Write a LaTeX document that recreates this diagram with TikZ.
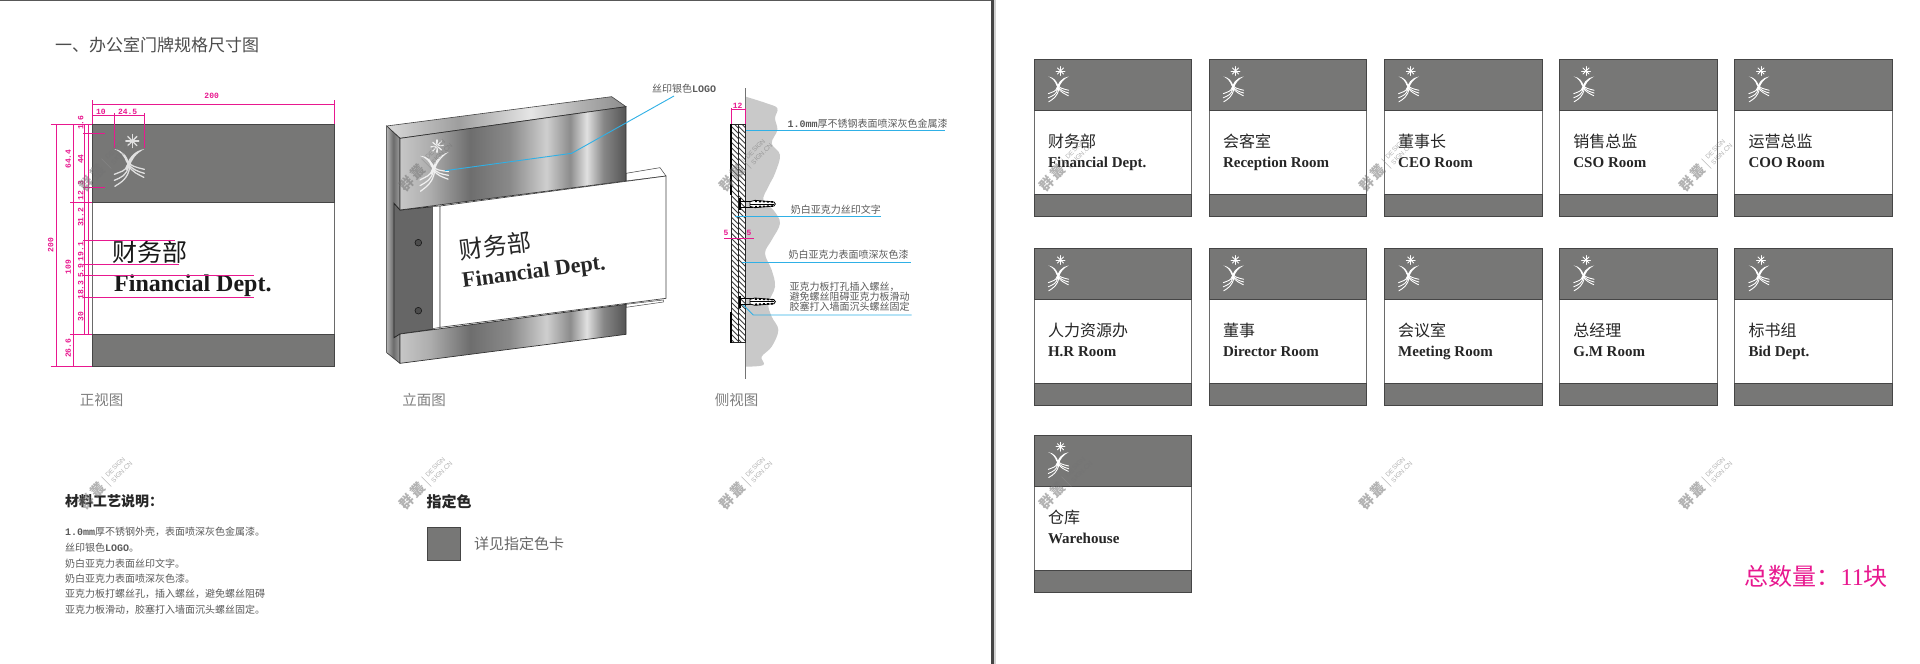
\documentclass[tikz,border=0pt]{standalone}
\usepackage{fontspec}
\setmainfont{Liberation Serif}
\setsansfont{Liberation Sans}
\setmonofont{Liberation Mono}
\newfontfamily\cjk{Noto Sans CJK SC}
\newcommand\fsz[1]{\fontsize{#1}{#1}\selectfont}
\definecolor{bandgray}{HTML}{777776}
\definecolor{edgegray}{HTML}{454545}
\definecolor{pinkdim}{HTML}{E8188F}
\definecolor{leaderblue}{HTML}{2FB0E6}
\definecolor{notegray}{HTML}{5A5A5A}
\definecolor{wallgray}{HTML}{C9C9C9}
\pgfdeclarehorizontalshading{metalband}{100bp}{
 rgb(0bp)=(.78,.78,.78);rgb(25bp)=(.78,.78,.78);rgb(31.6bp)=(.68,.68,.68);rgb(40.5bp)=(.43,.43,.43);
 rgb(49.3bp)=(.54,.54,.54);rgb(57.4bp)=(.81,.81,.81);rgb(62.6bp)=(.55,.55,.55);rgb(66.3bp)=(.88,.88,.88);
 rgb(70bp)=(.53,.53,.53);rgb(75bp)=(.33,.33,.33);rgb(100bp)=(.33,.33,.33)}
\pgfdeclarehorizontalshading{metaltop}{100bp}{
 rgb(0bp)=(.85,.85,.85);rgb(25bp)=(.85,.85,.85);rgb(40bp)=(.62,.62,.62);rgb(55bp)=(.9,.9,.9);
 rgb(65bp)=(.7,.7,.7);rgb(75bp)=(.55,.55,.55);rgb(100bp)=(.55,.55,.55)}
\pgfdeclarehorizontalshading{metalside}{100bp}{
 rgb(0bp)=(.7,.7,.7);rgb(25bp)=(.7,.7,.7);rgb(50bp)=(.42,.42,.42);rgb(75bp)=(.62,.62,.62);rgb(100bp)=(.62,.62,.62)}
\tikzset{
 x=1pt,y=-1pt,
 dimline/.style={draw=pinkdim,line width=.8pt},
 dimtext/.style={text=pinkdim,font=\ttfamily\bfseries\fsz{8},inner sep=0pt},
 leader/.style={draw=leaderblue,line width=.9pt},
 notetext/.style={text=notegray,font=\cjk\fsz{10},inner sep=0pt,anchor=west},
 viewlabel/.style={text=gray,font=\cjk\fsz{14.5},inner sep=0pt},
 band/.style={fill=bandgray,draw=edgegray,line width=.8pt},
 whitepart/.style={fill=white,draw=edgegray!80,line width=.7pt},
 wmark/.style={inner sep=0pt,rotate=45,opacity=.55},
}
% logo: 30 x 55 box, origin at its top-left; #6 = real size factor for strokes
\newcommand\logomark[6]{%
 \begin{scope}[shift={(#1,#2)},scale=#3,#5]
  \foreach \a in {0,45,...,315}{\draw[#4,line width=#6*1.3pt,line cap=round] (18,7.7) -- ++(\a:6.5);}
  \fill[#4] (30,15.7) .. controls (22,20) and (17,26) .. (15.5,34) -- (11.5,37) .. controls (12,26) and (20,17) .. (30,15.7) -- cycle;
  \fill[#4] (0,15.7) .. controls (8,17) and (13,22) .. (15,31) -- (12,29) .. controls (10,23) and (6,18) .. (0,15.7) -- cycle;
  \begin{scope}[#4,line width=#6*1.3pt,line cap=round]
   \draw (13,32) .. controls (11,38) and (7,38) .. (0,41);
   \draw (14,33) .. controls (12.5,42) and (7,44) .. (0,47);
   \draw (15.5,33) .. controls (14,45) and (7,49) .. (0.5,53);
   \draw (12,27) .. controls (16,33) and (22,34) .. (30,36);
   \draw (13,29) .. controls (17,36) and (23,38) .. (30,40);
   \draw (14,32) .. controls (18,39) and (24,41) .. (29.5,44);
  \end{scope}
 \end{scope}}
% card
\newcommand\signcard[5]{%
 \begin{scope}[shift={(#2,#3)}]
  \path[whitepart] (0,51) rectangle (157.5,135.5);
  \path[band] (0,0) rectangle (157.5,51);
  \path[band] (0,135.5) rectangle (157.5,157);
  \logomark{14}{6.5}{.68}{white}{}{.68}
  \node[anchor=west,inner sep=0pt,text=black!85,font=\cjk\fsz{16}] (cn#1) at (13.5,82.5) {#4};
  \node[anchor=base west,inner sep=0pt,text=black!85,font=\bfseries\fsz{15}] (en#1) at (13.5,108) {#5};
 \end{scope}}
% watermark
\newcommand\wmk[3]{%
 \begin{scope}[shift={(#2,#3)},rotate=45]
  \node[wmark,text=black!55,font=\cjk\bfseries\fsz{14}] (wa#1) at (-18,0) {群\,叢};
  \draw[black!45,opacity=.6,line width=.5pt] (2,-7) -- (2,7);
  \node[wmark,text=black!55,font=\sffamily\fsz{6.5},anchor=west] (wb#1) at (6,-4) {DESIGN};
  \node[wmark,text=black!55,font=\sffamily\fsz{6.5},anchor=west] (wc#1) at (6,4) {SIGN.CN};
 \end{scope}}
\begin{document}
\begin{tikzpicture}
\useasboundingbox (0,0) rectangle (1920,664);
\fill[white] (0,0) rectangle (1920,664);
% page frame
\draw[edgegray!90,line width=.8pt] (0,.5) -- (992,.5);
\fill[black!18] (993.5,0) rectangle (995.5,664);
\fill[edgegray] (991.3,0) rectangle (993.5,664);
% title
\node[anchor=west,inner sep=0pt,text=black!70,font=\cjk\fsz{17}] (title) at (55,44.5) {一、办公室门牌规格尺寸图};
% ===== front view
\begin{scope}[shift={(30,80)},scale=.33333]
 \path[whitepart] (187,368) rectangle (913,762);
 \path[band] (187,133) rectangle (913,368);
 \path[band] (187,762) rectangle (913,860);
 \logomark{253}{160}{3}{black!12}{}{1}
 \node[anchor=west,inner sep=0pt,text=black!90,font=\cjk\fsz{25}] (fcn) at (247,516) {财务部};
 \node[anchor=base west,inner sep=0pt,text=black!90,font=\bfseries\fsz{24}] (fen) at (252,635) {Financial Dept.};
 % dimensions
 \draw[dimline] (187,72) -- (913,72);
 \draw[dimline] (187,60) -- (187,133);
 \draw[dimline] (913,60) -- (913,133);
 \draw[dimline] (187,107) -- (343,107);
 \draw[dimline] (253,100) -- (253,205);
 \draw[dimline] (343,100) -- (343,205);
 \draw[dimline] (80,133) -- (80,860);
 \draw[dimline] (130,133) -- (130,860);
 \draw[dimline] (163,133) -- (163,762);
 \draw[dimline] (175,133) -- (175,762);
 \draw[dimline] (62,133) -- (187,133);
 \draw[dimline] (62,860) -- (187,860);
 \draw[dimline] (120,368) -- (187,368);
 \draw[dimline] (120,762) -- (187,762);
 \draw[dimline] (160,160) -- (225,160);
 \draw[dimline] (160,322) -- (225,322);
 \draw[dimline] (160,480) -- (435,480);
 \draw[dimline] (160,552) -- (448,552);
 \draw[dimline] (160,587) -- (672,587);
 \draw[dimline] (160,653) -- (672,653);
 \node[dimtext] (d200a) at (545,47) {200};
 \node[dimtext] (d10) at (213,95) {10};
 \node[dimtext] (d245) at (293,95) {24.5};
 \node[dimtext,rotate=90] (d200b) at (62,495) {200};
 \node[dimtext,rotate=90] (d644) at (115,237) {64.4};
 \node[dimtext,rotate=90] (d109) at (115,562) {109};
 \node[dimtext,rotate=90] (d266) at (115,805) {26.6};
 \node[dimtext,rotate=90] (d16) at (152,128) {1.6};
 \node[dimtext,rotate=90] (d44) at (152,237) {44};
 \node[dimtext,rotate=90] (d3) at (152,310) {3};
 \node[dimtext,rotate=90] (d12) at (152,347) {12};
 \node[dimtext,rotate=90] (d312) at (152,412) {31.2};
 \node[dimtext,rotate=90] (d191) at (152,515) {19.1};
 \node[dimtext,rotate=90] (d59) at (152,572) {5.9};
 \node[dimtext,rotate=90] (d183) at (152,630) {18.3};
 \node[dimtext,rotate=90] (d30) at (152,710) {30};
 \node[viewlabel] (vfront) at (215,960) {正视图};
\end{scope}
% ===== perspective view
\begin{scope}[shift={(370,70)},scale=.33333]
 \path[fill=white,draw=edgegray,line width=.5pt] (768,310) -- (870,293) -- (888,318) -- (768,333) -- cycle;
 \path[fill=white,draw=edgegray,line width=.5pt] (768,703) -- (880,690) -- (880,696) -- (768,712) -- cycle;
 \path[shading=metaltop,draw=edgegray,line width=.6pt] (50,168) -- (725,80) -- (768,110) -- (90,205) -- cycle;
 \path[shading=metalside,draw=black!80,line width=.6pt] (50,168) -- (90,205) -- (90,880) -- (50,848) -- cycle;
 \path[fill=black!60,draw=black!85,line width=.8pt] (72,400) -- (90,420) -- (188,410) -- (188,778) -- (90,792) -- (72,803) -- cycle;
 \path[fill=white,draw=edgegray,line width=.5pt] (188,410) -- (210,408) -- (210,772) -- (188,776) -- cycle;
 \path[shading=metalband,draw=black!80,line width=.7pt] (90,205) -- (768,110) -- (768,333) -- (90,420) -- cycle;
 \path[shading=metalband,draw=black!80,line width=.7pt] (90,792) -- (768,703) -- (768,793) -- (90,880) -- cycle;
 \path[fill=white,draw=edgegray,line width=.7pt] (210,408) -- (888,318) -- (888,685) -- (210,772) -- cycle;
 \path[fill=black!70,draw=black!90,line width=.6pt] (145,518) circle (10);
 \path[fill=black!70,draw=black!90,line width=.6pt] (145,722) circle (10);
 \logomark{150}{213}{2.85}{black!6}{yslant=.13}{.95}
 \node[rotate=7.4,inner sep=0pt,text=black!85,font=\cjk\fsz{24}] (pcn) at (375,528) {财务部};
 \node[rotate=7.4,inner sep=0pt,text=black!85,font=\bfseries\fsz{22}] (pen) at (492,610) {Financial Dept.};
 \node[inner sep=0pt,text=notegray,font=\cjk\fsz{10}] (plogo) at (942,55) {丝印银色\textbf{\ttfamily LOGO}};
 \coordinate (pa) at (225,302);
 \coordinate (pb) at (605,250);
 \coordinate (pc) at (912,78);
 \draw[leader] (pa) -- (pb) -- (pc);
 \node[viewlabel] (vpersp) at (162,990) {立面图};
\end{scope}
% ===== side view
\begin{scope}[shift={(700,70)},scale=.33333]
 \fill[wallgray] plot[smooth,tension=.6] coordinates {(137,80) (200,100) (232,115) (225,145) (232,180) (215,220) (240,255) (225,310) (205,350) (190,390) (220,420) (240,460) (215,510) (195,550) (215,600) (225,650) (205,700) (215,740) (235,780) (215,830) (185,860) (190,885) (137,890)} -- cycle;
 \draw[black!55,line width=1.1pt] (137,55) -- (137,928);
 \fill[white] (93,163) rectangle (137,818);
 \begin{scope}
  \clip (93,163) rectangle (137,818);
  \foreach \h in {120,136,...,830}{\draw[black!75,line width=.9pt] (93,\h) -- (115,\h+22);\draw[black!75,line width=.9pt] (115,\h) -- (137,\h+22);}
 \end{scope}
 \draw[black!85,line width=.8pt] (93,163) rectangle (137,818);
 \draw[black!85,line width=.7pt] (115,163) -- (115,818);
 \draw[black,line width=1.4pt] (93,163) -- (93,375) (93,725) -- (93,818);
 \foreach \h in {402,695}{
  \draw[black,line width=1.1pt] (120,\h-18) -- (120,\h+18);
  \draw[black,line width=.8pt] (120,\h-9) -- (160,\h-9) (120,\h+9) -- (160,\h+9);
  \path[fill=white,draw=black,line width=.8pt] (150,\h-7) -- (165,\h-11) -- (222,\h-6) -- (226,\h) -- (222,\h+6) -- (165,\h+11) -- (150,\h+7) -- cycle;
  \draw[black,line width=1.6pt,dash pattern=on 2pt off 2pt] (165,\h-8) -- (222,\h-6) (165,\h+8) -- (222,\h+6);
  \draw[black,line width=.8pt] (150,\h) -- (222,\h);
 }
 \coordinate (sa1) at (137,180); \coordinate (sa2) at (735,180);
 \coordinate (sb1) at (105,440); \coordinate (sb2) at (543,440);
 \coordinate (sc1) at (125,578); \coordinate (sc2) at (632,578);
 \coordinate (sd1) at (130,705); \coordinate (sd2) at (160,735); \coordinate (sd3) at (635,735);
 \draw[leader] (sa1) -- (sa2);
 \draw[leader] (sb1) -- (sb2);
 \draw[leader] (sc1) -- (sc2);
 \draw[leader] (sd1) -- (sd2) -- (sd3);
 \node[notetext] (na) at (262,160) {{\ttfamily\bfseries 1.0mm}厚不锈钢表面喷深灰色金属漆};
 \node[notetext] (nb) at (272,420) {奶白亚克力丝印文字};
 \node[notetext] (nc) at (265,555) {奶白亚克力表面喷深灰色漆};
 \node[notetext] (nd1) at (268,650) {亚克力板打孔插入螺丝，};
 \node[notetext] (nd2) at (268,680) {避免螺丝阻碍亚克力板滑动};
 \node[notetext] (nd3) at (268,710) {胶塞打入墙面沉头螺丝固定};
 \draw[dimline] (93,118) -- (137,118);
 \draw[dimline] (93,115) -- (93,163);
 \draw[dimline] (137,115) -- (137,163);
 \draw[dimline] (72,505) -- (162,505);
 \node[dimtext] (s12) at (113,106) {12};
 \node[dimtext] (s5a) at (78,490) {5};
 \node[dimtext] (s5b) at (147,490) {5};
 \node[viewlabel] (vside) at (110,990) {侧视图};
\end{scope}
% ===== notes
\node[anchor=west,inner sep=0pt,text=black!85,font=\cjk\bfseries\fsz{14}] (mt) at (65,501.5) {材料工艺说明：};
\node[notetext] (m1) at (65,532) {{\ttfamily\bfseries 1.0mm}厚不锈钢外壳，表面喷深灰色金属漆。};
\node[notetext] (m2) at (65,547.7) {丝印银色{\ttfamily\bfseries LOGO}。};
\node[notetext] (m3) at (65,563.3) {奶白亚克力表面丝印文字。};
\node[notetext] (m4) at (65,578.5) {奶白亚克力表面喷深灰色漆。};
\node[notetext] (m5) at (65,594) {亚克力板打螺丝孔，插入螺丝，避免螺丝阻碍};
\node[notetext] (m6) at (65,609.7) {亚克力板滑动，胶塞打入墙面沉头螺丝固定。};
\node[anchor=west,inner sep=0pt,text=black!85,font=\cjk\bfseries\fsz{15}] (ct) at (426.5,501.7) {指定色};
\path[fill=bandgray,draw=edgegray,line width=.9pt] (427.3,527.7) rectangle (460.3,560.7);
\node[anchor=west,inner sep=0pt,text=black!60,font=\cjk\fsz{15}] (cs) at (474,543.3) {详见指定色卡};
% ===== cards
\signcard{a}{1034.3}{59.3}{财务部}{Financial Dept.}
\signcard{b}{1209.3}{59.3}{会客室}{Reception Room}
\signcard{c}{1384.5}{59.3}{董事长}{CEO Room}
\signcard{d}{1559.7}{59.3}{销售总监}{CSO Room}
\signcard{e}{1734.8}{59.3}{运营总监}{COO Room}
\signcard{f}{1034.3}{248.3}{人力资源办}{H.R Room}
\signcard{g}{1209.3}{248.3}{董事}{Director Room}
\signcard{h}{1384.5}{248.3}{会议室}{Meeting Room}
\signcard{i}{1559.7}{248.3}{总经理}{G.M Room}
\signcard{j}{1734.8}{248.3}{标书组}{Bid Dept.}
\signcard{k}{1034.3}{435}{仓库}{Warehouse}
\node[anchor=east,inner sep=0pt,text=pinkdim,font=\cjk\fsz{24}] (total) at (1888,576.7) {总数量：{\rmfamily 11}块};
% ===== watermarks
\wmk{1}{105}{165}\wmk{2}{425}{165}\wmk{3}{745}{165}\wmk{4}{1065}{165}\wmk{5}{1385}{165}\wmk{6}{1705}{165}
\wmk{7}{105}{483}\wmk{8}{425}{483}\wmk{9}{745}{483}\wmk{10}{1065}{483}\wmk{11}{1385}{483}\wmk{12}{1705}{483}
\end{tikzpicture}
\end{document}
